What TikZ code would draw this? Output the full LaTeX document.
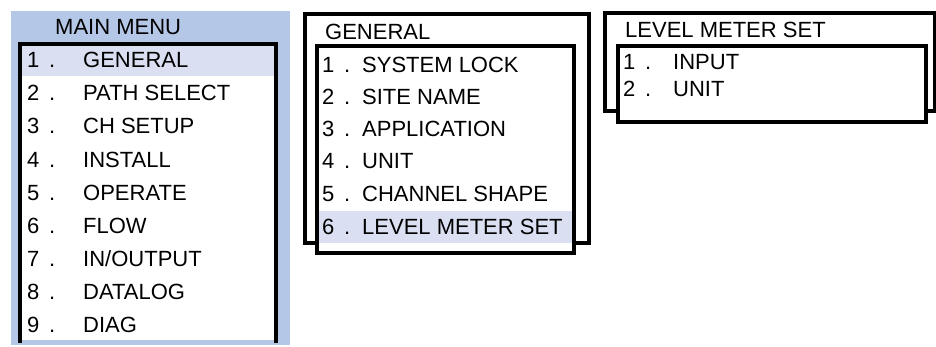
\documentclass[tikz,border=0pt]{standalone}
\usepackage{fontspec}
\setmainfont{Liberation Sans}
\definecolor{menuBlue}{RGB}{180,199,231}
\definecolor{rowHilite}{RGB}{218,224,242}

\begin{document}
\begin{tikzpicture}
[x=1pt,y=-1pt,
  frameDecorate/.style={line width=3.2pt,line join=miter},
  itemDecorate/.style={anchor=west,inner sep=0pt,text height=15.5pt,text depth=0pt,
    font=\fontsize{22}{25}\selectfont}]
\useasboundingbox (0,0) rectangle (936,347);
%% main menu
\fill[menuBlue] (11,11) rectangle (290,345);
\fill[white] (20,44) rectangle (276,340);
\fill[rowHilite] (20,44) rectangle (276,76);
\draw[frameDecorate] (20,343) -- (20,44) -- (276,44) -- (276,343);
\node (mainTitle) at (55,27) [itemDecorate] {MAIN MENU};
\foreach \num/\txt/\y in {
  1/GENERAL/60,
  2/PATH SELECT/93,
  3/CH SETUP/126,
  4/INSTALL/160,
  5/OPERATE/193,
  6/FLOW/226,
  7/{IN/OUTPUT}/259,
  8/DATALOG/292,
  9/DIAG/325}
{
  \node (mainNum\num) at (27,\y) [itemDecorate] {\num\ \,.};
  \node (mainItem\num) at (83,\y) [itemDecorate] {\txt};
}
%% general submenu
\draw[frameDecorate] (305,14) rectangle (589,243);
\fill[white] (317,46) rectangle (574,253);
\fill[rowHilite] (317,211) rectangle (574,243);
\draw[frameDecorate] (317,46) rectangle (574,253);
\node (genTitle) at (325,32) [itemDecorate] {GENERAL};
\foreach \num/\txt/\y in {
  1/SYSTEM LOCK/65,
  2/SITE NAME/97,
  3/APPLICATION/129,
  4/UNIT/161,
  5/CHANNEL SHAPE/194,
  6/LEVEL METER SET/227}
{
  \node (genNum\num) at (322,\y) [itemDecorate] {\num\ \,.};
  \node (genItem\num) at (362,\y) [itemDecorate] {\txt};
}
%% level meter submenu
\draw[frameDecorate] (605,13) rectangle (935,111);
\fill[white] (618,46) rectangle (926,122);
\draw[frameDecorate] (618,46) rectangle (926,122);
\node (lvlTitle) at (625,30) [itemDecorate] {LEVEL METER SET};
\foreach \num/\txt/\y in {
  1/INPUT/62,
  2/UNIT/89}
{
  \node (lvlNum\num) at (623,\y) [itemDecorate] {\num\ \,.};
  \node (lvlItem\num) at (673,\y) [itemDecorate] {\txt};
}
\end{tikzpicture}
\end{document}
